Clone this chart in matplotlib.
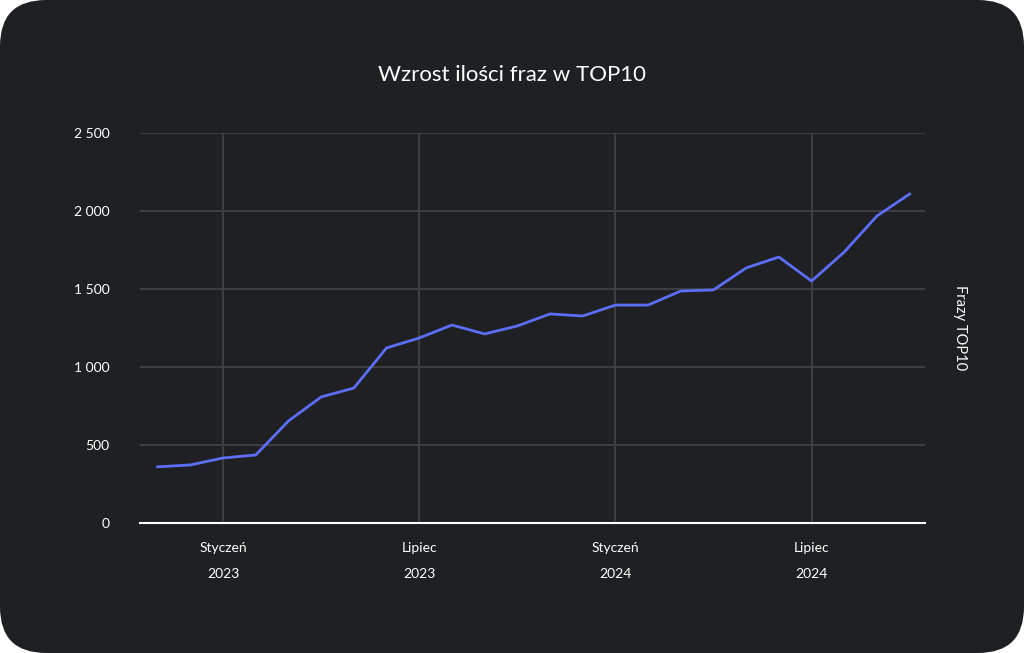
import matplotlib
matplotlib.use("Agg")
import matplotlib.pyplot as plt
from matplotlib.patches import FancyBboxPatch

months = ["2022-11","2022-12","2023-01","2023-02","2023-03","2023-04","2023-05","2023-06",
          "2023-07","2023-08","2023-09","2023-10","2023-11","2023-12","2024-01","2024-02",
          "2024-03","2024-04","2024-05","2024-06","2024-07","2024-08","2024-09","2024-10"]
values = [360, 372, 417, 436, 654, 808, 865, 1122, 1186, 1269, 1212, 1263, 1340, 1327,
          1397, 1397, 1487, 1494, 1635, 1705, 1551, 1737, 1968, 2109]
tick_months = ["2023-01", "2023-07", "2024-01", "2024-07"]
tick_labels = ["Styczeń\n\n2023", "Lipiec\n\n2023", "Styczeń\n\n2024", "Lipiec\n\n2024"]
y_ticks = [0, 500, 1000, 1500, 2000, 2500]
y_labels = ["0", "500", "1 000", "1 500", "2 000", "2 500"]

plt.rcParams["font.family"] = "Lato"
fig = plt.figure(figsize=(10.24, 6.53), dpi=100)
fig.patch.set_facecolor("white")
bg = "#1f2023"
card = FancyBboxPatch((0.0, 0.0), 1.0, 1.0, boxstyle="round,pad=0,rounding_size=0.045",
                      transform=fig.transFigure, facecolor=bg, edgecolor="none",
                      mutation_aspect=1024/653, zorder=-10)
fig.patches.append(card)

ax = fig.add_axes([140/1024, 130/653, 785/1024, 390/653])
ax.set_zorder(5)
ax.patch.set_alpha(0)
x = list(range(len(months)))
ax.plot(x, values, color="#5b6ef5", lw=2, zorder=3, clip_on=False)
tx = [months.index(m) for m in tick_months]
ax.set_xticks(tx)
ax.set_xticklabels(tick_labels, color="white", fontsize=10, linespacing=1.1)
ax.set_yticks(y_ticks)
ax.set_yticklabels(y_labels, color="white", fontsize=10)
ax.set_xlim(-0.54, 23.47)
ax.set_ylim(0, 2500)
ax.grid(True, color="#3d3e42", lw=1.5)
for s in ["top", "right", "left"]:
    ax.spines[s].set_visible(False)
ax.spines["bottom"].set_color("white")
ax.spines["bottom"].set_linewidth(1.5)
ax.spines["bottom"].set_zorder(4)
ax.tick_params(length=0, pad=14)
ax.tick_params(axis="y", pad=22)
ax.set_axisbelow(True)
ax.yaxis.set_label_position("right")
ax.set_ylabel("Frazy TOP10", color="white", fontsize=10.5, rotation=-90, labelpad=30)
fig.text(0.5, 1 - 75/653, "Wzrost ilości fraz w TOP10", color="white",
         fontsize=16, ha="center", va="center")
fig.savefig("out.png", dpi=100, facecolor="white")
